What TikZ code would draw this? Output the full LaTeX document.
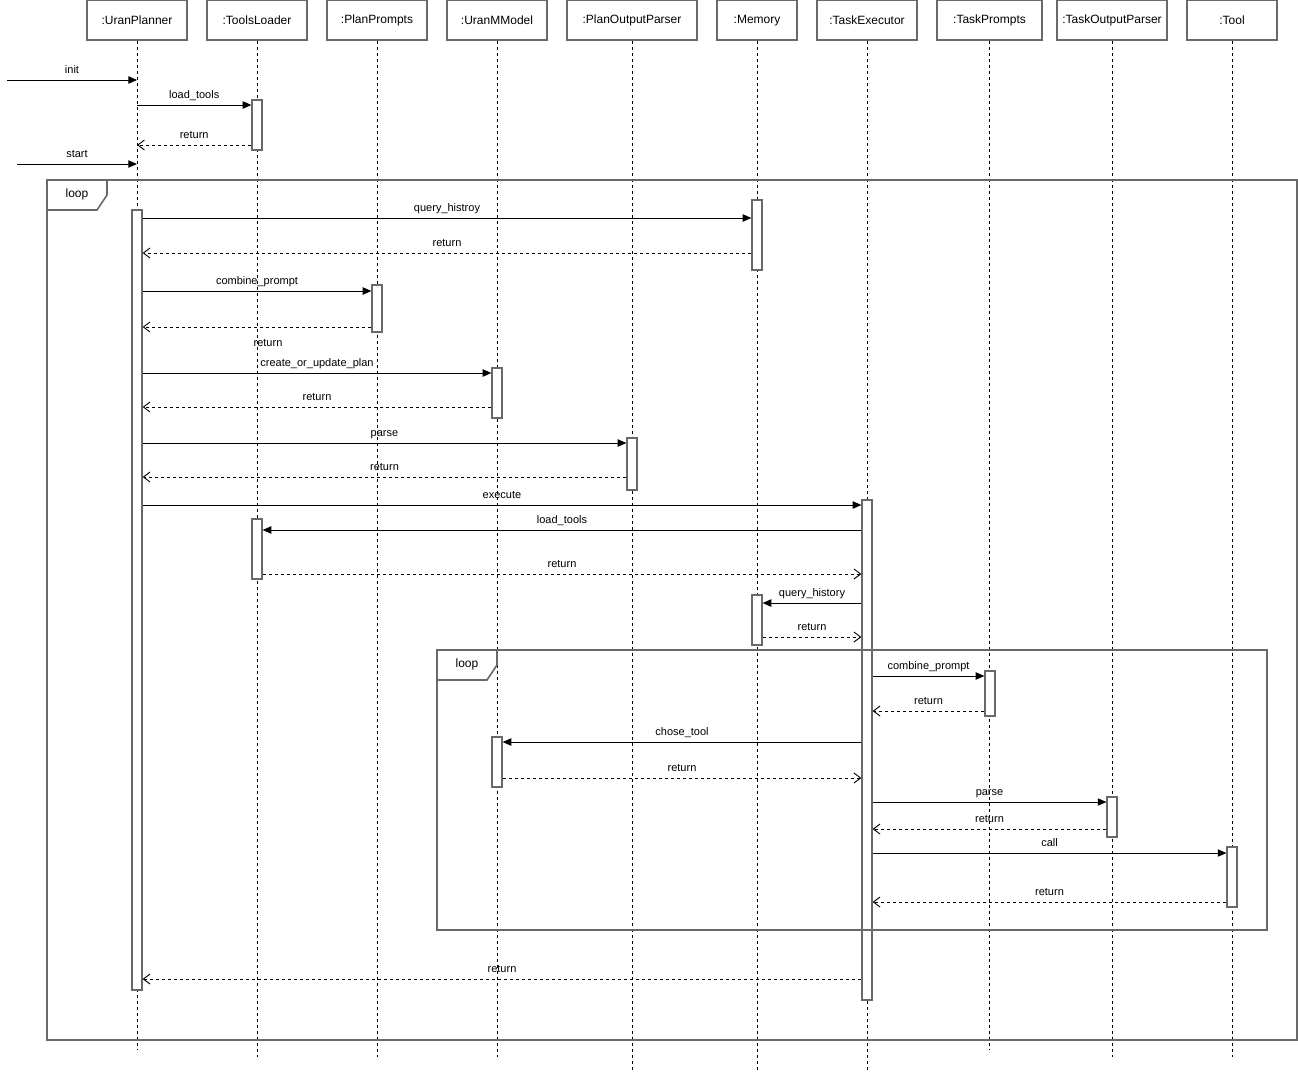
\documentclass[tikz,border=0pt]{standalone}
\usepackage{fontspec}
\setmainfont{Liberation Sans}
\usetikzlibrary{arrows.meta,fit}
\definecolor{boxgray}{RGB}{105,105,105}

\tikzset{
  head/.style={draw=boxgray, line width=1pt, inner sep=0pt, label={[font=\fontsize{9}{10}\selectfont]center:#1}},
  act/.style={draw=boxgray, fill=white, line width=0.9pt, inner sep=0pt},
  life/.style={black, line width=0.7pt, dash pattern=on 2.25pt off 2.25pt},
  msg/.style={black, line width=0.75pt, -{Triangle[length=6.5pt,width=5.5pt]}},
  ret/.style={black, line width=0.7pt, dash pattern=on 2.25pt off 2.25pt, -{Straight Barb[length=5pt,width=7.5pt]}},
  lbl/.style={font=\fontsize{8.25}{9}\selectfont, inner sep=0pt, anchor=base, yshift=4.6pt},
  frame/.style={draw=boxgray, line width=1.2pt},
}

\begin{document}
\begin{tikzpicture}[x=0.75pt, y=-0.75pt]
    \useasboundingbox (0,0) rectangle (1298,1071);

    % Participants
    \node[head=:UranPlanner, fit={(87,0.6)(187,40)}] (up) {};
    \node[head=:ToolsLoader, fit={(207,0.6)(307,40)}] (tl) {};
    \node[head=:PlanPrompts, fit={(327,0.6)(427,40)}] (pp) {};
    \node[head=:UranMModel, fit={(447,0.6)(547,40)}] (um) {};
    \node[head=:PlanOutputParser, fit={(567,0.6)(697,40)}] (pop) {};
    \node[head=:Memory, fit={(717,0.6)(797,40)}] (mem) {};
    \node[head=:TaskExecutor, fit={(817,0.6)(917,40)}] (te) {};
    \node[head=:TaskPrompts, fit={(937,0.6)(1042,40)}] (tp) {};
    \node[head=:TaskOutputParser, fit={(1057,0.6)(1167,40)}] (top) {};
    \node[head=:Tool, fit={(1187,0.6)(1277,40)}] (tool) {};

    % Lifelines
    \foreach \n/\e in {up/1050, tl/1057, pp/1057, um/1057, pop/1070, mem/1070, te/1070, tp/1050, top/1057, tool/1057}
        \draw[life] (\n.south) -- (\n.south |- 0,\e);

    % Activation bars
    \node[act, fit={(252,100)(262,150)}] (tl1) {};
    \node[act, fit={(132,210)(142,990)}] (up1) {};
    \node[act, fit={(752,200)(762,270)}] (mem1) {};
    \node[act, fit={(372,285)(382,332)}] (pp1) {};
    \node[act, fit={(492,368)(502,418)}] (um1) {};
    \node[act, fit={(627,438)(637,490)}] (pop1) {};
    \node[act, fit={(862,500)(872,1000)}] (te1) {};
    \node[act, fit={(252,519)(262,579)}] (tl2) {};
    \node[act, fit={(752,595)(762,645)}] (mem2) {};
    \node[act, fit={(985,671)(995,716)}] (tp1) {};
    \node[act, fit={(492,737)(502,787)}] (um2) {};
    \node[act, fit={(1107,797)(1117,837)}] (top1) {};
    \node[act, fit={(1227,847)(1237,907)}] (tool1) {};

    % Setup calls
    \coordinate (initsrc) at (7,80);
    \coordinate (startsrc) at (17,164);
    \draw[msg] (initsrc) -- node[lbl] (linit) {init} (up |- initsrc);
    \draw[msg] (up |- 0,105) -- node[lbl] (lload) {load\_tools} (tl1.west |- 0,105);
    \draw[ret] (tl1.west |- 0,145) -- node[lbl] (lret0) {return} (up |- 0,145);
    \draw[msg] (startsrc) -- node[lbl] (lstart) {start} (up |- startsrc);

    % Outer loop
    \draw[frame] (47,180) rectangle (1297,1040);
    \draw[frame] (47,210) -- (97,210) -- (107,195) -- (107,180);
    \node[font=\fontsize{9}{10}\selectfont] (loop1) at (77,194) {loop};

    % Planning
    \draw[msg] (up1.east |- 0,218) -- node[lbl] (lqh) {query\_histroy} (mem1.west |- 0,218);
    \draw[ret] (mem1.west |- 0,253) -- node[lbl] (lret1) {return} (up1.east |- 0,253);
    \draw[msg] (up1.east |- 0,291) -- node[lbl] (lcp) {combine\_prompt} (pp1.west |- 0,291);
    \draw[ret] (pp1.west |- 0,327) -- (up1.east |- 0,327);
    \node[lbl, yshift=-4.6pt] (lret2) at (268,346) {return};
    \draw[msg] (up1.east |- 0,373) -- node[lbl] (lcu) {create\_or\_update\_plan} (um1.west |- 0,373);
    \draw[ret] (um1.west |- 0,407) -- node[lbl] (lret3) {return} (up1.east |- 0,407);
    \draw[msg] (up1.east |- 0,443) -- node[lbl] (lparse1) {parse} (pop1.west |- 0,443);
    \draw[ret] (pop1.west |- 0,477) -- node[lbl] (lret4) {return} (up1.east |- 0,477);
    \draw[msg] (up1.east |- 0,505) -- node[lbl] (lexec) {execute} (te1.west |- 0,505);

    % Execution
    \draw[msg] (te1.west |- 0,530) -- node[lbl] (lload2) {load\_tools} (tl2.east |- 0,530);
    \draw[ret] (tl2.east |- 0,574) -- node[lbl] (lret5) {return} (te1.west |- 0,574);
    \draw[msg] (te1.west |- 0,603) -- node[lbl] (lqh2) {query\_history} (mem2.east |- 0,603);
    \draw[ret] (mem2.east |- 0,637) -- node[lbl] (lret6) {return} (te1.west |- 0,637);

    % Inner loop
    \draw[frame] (437,650) rectangle (1267,930);
    \draw[frame] (437,680) -- (487,680) -- (497,665) -- (497,650);
    \node[font=\fontsize{9}{10}\selectfont] (loop2) at (467,664) {loop};

    \draw[msg] (te1.east |- 0,676) -- node[lbl] (lcp2) {combine\_prompt} (tp1.west |- 0,676);
    \draw[ret] (tp1.west |- 0,711) -- node[lbl] (lret7) {return} (te1.east |- 0,711);
    \draw[msg] (te1.west |- 0,742) -- node[lbl] (lct) {chose\_tool} (um2.east |- 0,742);
    \draw[ret] (um2.east |- 0,778) -- node[lbl] (lret8) {return} (te1.west |- 0,778);
    \draw[msg] (te1.east |- 0,802) -- node[lbl] (lparse2) {parse} (top1.west |- 0,802);
    \draw[ret] (top1.west |- 0,829) -- node[lbl] (lret9) {return} (te1.east |- 0,829);
    \draw[msg] (te1.east |- 0,853) -- node[lbl] (lcall) {call} (tool1.west |- 0,853);
    \draw[ret] (tool1.west |- 0,902) -- node[lbl] (lret10) {return} (te1.east |- 0,902);

    % Final return
    \draw[ret] (te1.west |- 0,979) -- node[lbl] (lret11) {return} (up1.east |- 0,979);
\end{tikzpicture}
\end{document}
